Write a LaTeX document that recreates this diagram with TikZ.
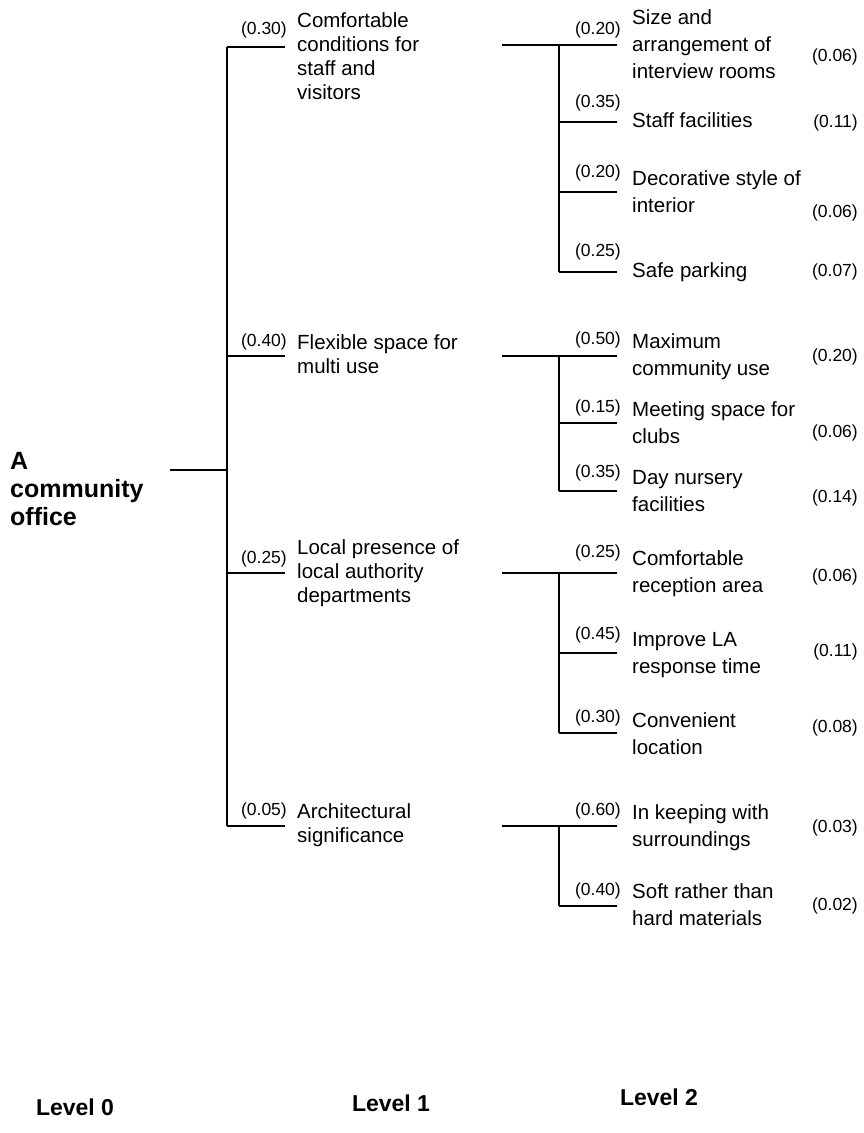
\documentclass[tikz,border=0pt]{standalone}
\usepackage{fontspec}
\setmainfont{Liberation Sans}
\usetikzlibrary{positioning}
\tikzstyle{goal} = [font=\bfseries\fontsize{25}{28}\selectfont, align=left, anchor=north west, inner sep=0pt]
\tikzstyle{crit} = [font=\fontsize{20.5}{24}\selectfont, align=left, anchor=north west, inner sep=0pt]
\tikzstyle{subcrit} = [font=\fontsize{20.5}{27}\selectfont, align=left, anchor=north west, inner sep=0pt]
\tikzstyle{weight} = [font=\fontsize{17.5}{20}\selectfont, anchor=east, inner sep=0pt]
\tikzstyle{level} = [font=\bfseries\fontsize{23}{26}\selectfont, inner sep=0pt]
\tikzstyle{branch} = [line width=1.4pt]

\begin{document}
\begin{tikzpicture}[x=1pt, y=-1pt]
\useasboundingbox (0,0) rectangle (863,1133);

% level 0
\node (office) [goal] at (10,452) {A\\community\\office};
\coordinate (office0) at (170,470);
\coordinate (trunk) at (227,470);

% level 1
\coordinate (comfort0) at (227,47);   \coordinate (comfort1) at (285,47);
\coordinate (flex0) at (227,356);     \coordinate (flex1) at (285,356);
\coordinate (local0) at (227,573);    \coordinate (local1) at (285,573);
\coordinate (arch0) at (227,826);     \coordinate (arch1) at (285,826);

\node (wcomfort) [weight] at (287,30) {(0.30)};
\node (comfort) [crit] at (297,12) {Comfortable\\conditions for\\staff and\\visitors};
\node (wflex) [weight] at (287,342) {(0.40)};
\node (flex) [crit] at (297,334) {Flexible space for\\multi use};
\node (wlocal) [weight] at (287,559) {(0.25)};
\node (local) [crit] at (297,539) {Local presence of\\local authority\\departments};
\node (warch) [weight] at (287,811) {(0.05)};
\node (arch) [crit] at (297,803) {Architectural\\significance};

% level 2
\coordinate (comfortbar) at (502,45);
\coordinate (size0) at (559,45);      \coordinate (size1) at (617,45);
\coordinate (staff0) at (559,122);    \coordinate (staff1) at (617,122);
\coordinate (deco0) at (559,192);     \coordinate (deco1) at (617,192);
\coordinate (park0) at (559,272);     \coordinate (park1) at (617,272);

\coordinate (flexbar) at (502,356);
\coordinate (maxuse0) at (559,356);   \coordinate (maxuse1) at (617,356);
\coordinate (meet0) at (559,423);     \coordinate (meet1) at (617,423);
\coordinate (nursery0) at (559,491);  \coordinate (nursery1) at (617,491);

\coordinate (localbar) at (502,573);
\coordinate (recep0) at (559,573);    \coordinate (recep1) at (617,573);
\coordinate (resp0) at (559,653);     \coordinate (resp1) at (617,653);
\coordinate (loc0) at (559,733);      \coordinate (loc1) at (617,733);

\coordinate (archbar) at (502,826);
\coordinate (keep0) at (559,826);     \coordinate (keep1) at (617,826);
\coordinate (soft0) at (559,906);     \coordinate (soft1) at (617,906);

\node (wsize) [weight] at (621,30) {(0.20)};
\node (size) [subcrit] at (632,9) {Size and\\arrangement of\\interview rooms};
\node (gsize) [weight] at (858,57) {(0.06)};
\node (wstaff) [weight] at (621,103) {(0.35)};
\node (staff) [subcrit] at (632,112) {Staff facilities};
\node (gstaff) [weight] at (858,123) {(0.11)};
\node (wdeco) [weight] at (621,173) {(0.20)};
\node (deco) [subcrit] at (632,170) {Decorative style of\\interior};
\node (gdeco) [weight] at (858,213) {(0.06)};
\node (wpark) [weight] at (621,252) {(0.25)};
\node (park) [subcrit] at (632,262) {Safe parking};
\node (gpark) [weight] at (858,272) {(0.07)};

\node (wmaxuse) [weight] at (621,340) {(0.50)};
\node (maxuse) [subcrit] at (632,333) {Maximum\\community use};
\node (gmaxuse) [weight] at (858,357) {(0.20)};
\node (wmeet) [weight] at (621,408) {(0.15)};
\node (meet) [subcrit] at (632,401) {Meeting space for\\clubs};
\node (gmeet) [weight] at (858,433) {(0.06)};
\node (wnursery) [weight] at (621,473) {(0.35)};
\node (nursery) [subcrit] at (632,470) {Day nursery\\facilities};
\node (gnursery) [weight] at (858,498) {(0.14)};

\node (wrecep) [weight] at (621,553) {(0.25)};
\node (recep) [subcrit] at (632,550) {Comfortable\\reception area};
\node (grecep) [weight] at (858,577) {(0.06)};
\node (wresp) [weight] at (621,635) {(0.45)};
\node (resp) [subcrit] at (632,632) {Improve LA\\response time};
\node (gresp) [weight] at (858,652) {(0.11)};
\node (wloc) [weight] at (621,718) {(0.30)};
\node (loc) [subcrit] at (632,712) {Convenient\\location};
\node (gloc) [weight] at (858,728) {(0.08)};

\node (wkeep) [weight] at (621,811) {(0.60)};
\node (keep) [subcrit] at (632,804) {In keeping with\\surroundings};
\node (gkeep) [weight] at (858,828) {(0.03)};
\node (wsoft) [weight] at (621,891) {(0.40)};
\node (soft) [subcrit] at (632,883) {Soft rather than\\hard materials};
\node (gsoft) [weight] at (858,906) {(0.02)};

% level labels
\node (lev0) [level] at (75,1107) {Level 0};
\node (lev1) [level] at (391,1103) {Level 1};
\node (lev2) [level] at (659,1097) {Level 2};

% tree lines
\draw [branch] (office0) -- (trunk);
\draw [branch] (comfort0) -- (arch0);
\draw [branch] (comfort0) -- (comfort1);
\draw [branch] (flex0) -- (flex1);
\draw [branch] (local0) -- (local1);
\draw [branch] (arch0) -- (arch1);

\draw [branch] (comfortbar) -- (size1);
\draw [branch] (size0) -- (park0);
\draw [branch] (staff0) -- (staff1);
\draw [branch] (deco0) -- (deco1);
\draw [branch] (park0) -- (park1);

\draw [branch] (flexbar) -- (maxuse1);
\draw [branch] (maxuse0) -- (nursery0);
\draw [branch] (meet0) -- (meet1);
\draw [branch] (nursery0) -- (nursery1);

\draw [branch] (localbar) -- (recep1);
\draw [branch] (recep0) -- (loc0);
\draw [branch] (resp0) -- (resp1);
\draw [branch] (loc0) -- (loc1);

\draw [branch] (archbar) -- (keep1);
\draw [branch] (keep0) -- (soft0);
\draw [branch] (soft0) -- (soft1);

\end{tikzpicture}
\end{document}
